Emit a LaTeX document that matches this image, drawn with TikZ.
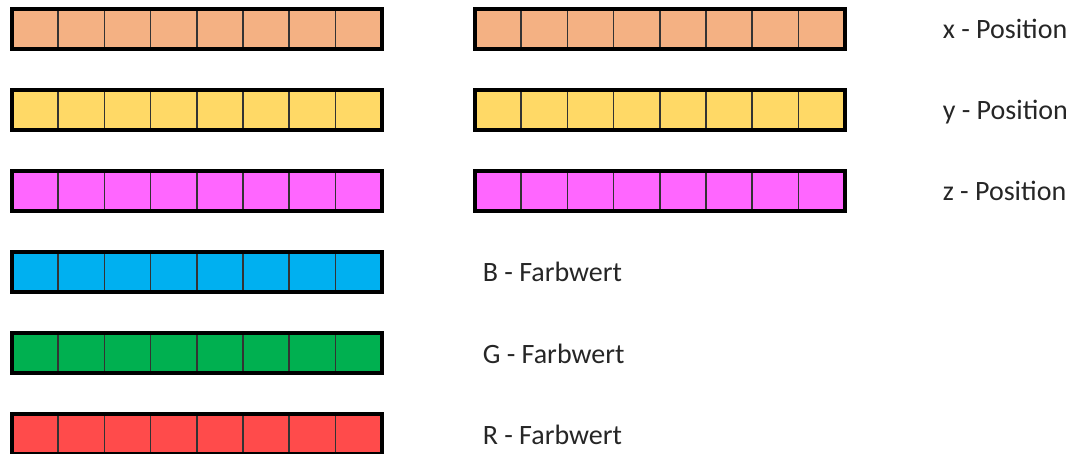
\documentclass[tikz,border=0pt]{standalone}
\usepackage{fontspec}
\setmainfont{Carlito}
\usetikzlibrary{positioning}
\definecolor{posx}{HTML}{F4B183}
\definecolor{posy}{HTML}{FFD966}
\definecolor{posz}{HTML}{FF66FF}
\definecolor{colb}{HTML}{00B0F0}
\definecolor{colg}{HTML}{00B050}
\definecolor{colr}{HTML}{FF4B4B}
\tikzset{
  cell/.style={rectangle, draw=black!80, line width=1.5pt, minimum width=46.2pt,
               minimum height=40pt, inner sep=0pt, outer sep=0pt},
  barframe/.style={draw=black, line width=4pt},
  lbl/.style={inner sep=0pt, text height=19pt, text depth=6pt, text=black!85,
              font=\fontsize{28}{32}\selectfont},
}
\begin{document}
\begin{tikzpicture}[x=1pt, y=-1pt]
\useasboundingbox (0,0) rectangle (1084,454);
% left column: all six channels
\foreach \r/\c in {1/posx,2/posy,3/posz,4/colb,5/colg,6/colr}{
  \foreach \i in {1,...,8}
    \node[cell, fill=\c] (l\r-\i) at ({12+46.2*(\i-0.5)}, {29+81*(\r-1)}) {};
  \draw[barframe] (l\r-1.north west) rectangle (l\r-8.south east);
}
% right column: positions only
\foreach \r/\c in {1/posx,2/posy,3/posz}{
  \foreach \i in {1,...,8}
    \node[cell, fill=\c] (r\r-\i) at ({475+46.2*(\i-0.5)}, {29+81*(\r-1)}) {};
  \draw[barframe] (r\r-1.north west) rectangle (r\r-8.south east);
}
\node[lbl, right=98pt of r1-8, yshift=-3.5pt] (lblx) {x - Position};
\node[lbl, right=98pt of r2-8, yshift=-3.5pt] (lbly) {y - Position};
\node[lbl, right=98pt of r3-8, yshift=-3.5pt] (lblz) {z - Position};
\node[lbl, right=101pt of l4-8, yshift=-3.5pt] (lblb) {B - Farbwert};
\node[lbl, right=101pt of l5-8, yshift=-3.5pt] (lblg) {G - Farbwert};
\node[lbl, right=101pt of l6-8, yshift=-3.5pt] (lblr) {R - Farbwert};
\end{tikzpicture}
\end{document}
